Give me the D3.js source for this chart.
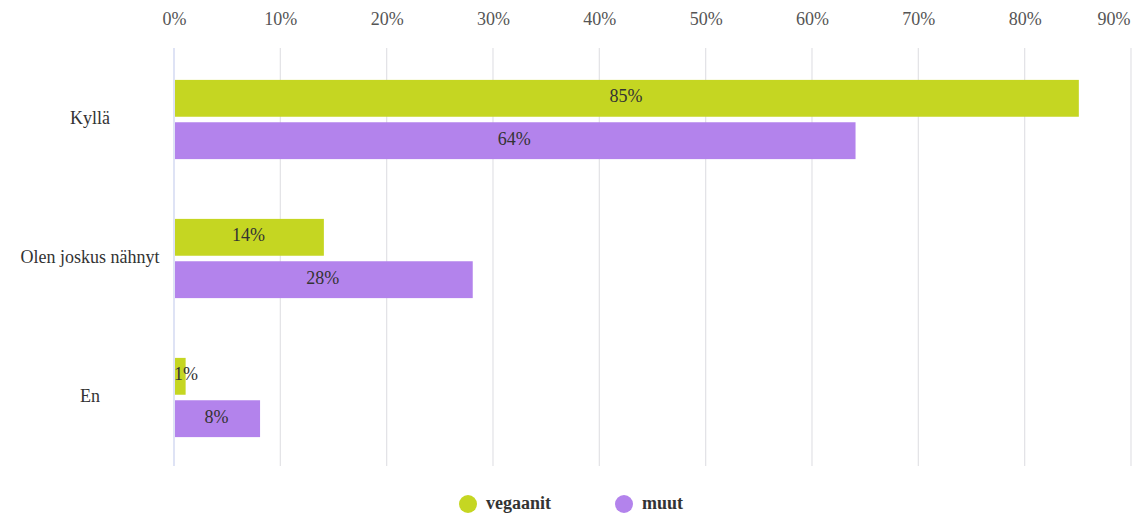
<!DOCTYPE html>
<html><head><meta charset="utf-8">
<script src="https://cdn.jsdelivr.net/npm/d3@7"></script>
<style>body{margin:0;background:#fff}svg{display:block;font-family:"Liberation Serif","DejaVu Serif",serif}</style>
</head><body><svg id="c" width="1138" height="516"></svg>
<script>
const categories = ["Kyllä", "Olen joskus nähnyt", "En"];
const seriesNames = ["vegaanit", "muut"];
const vegaanit = [85, 14, 1];
const muut = [64, 28, 8];
const tickValues = [0, 10, 20, 30, 40, 50, 60, 70, 80, 90];
const colors = ["#c5d622", "#b383ec"];

const svg = d3.select("#c");
const x = d3.scaleLinear().domain([0, 90]).range([174, 1131]);
const y = d3.scaleBand().domain(categories).range([50, 467]).paddingInner(0.43).paddingOuter(0.215);
const y1 = d3.scaleBand().domain(seriesNames).range([0, y.bandwidth()]).paddingInner(0.13);

// grid
svg.append("g").selectAll("line").data(tickValues).join("line")
  .attr("x1", d => x(d)).attr("x2", d => x(d)).attr("y1", 48).attr("y2", 466)
  .attr("stroke", d => d === 0 ? "#c9d0ee" : "#e2e2e6").attr("stroke-width", 1.2);

// top axis
const ax = svg.append("g").attr("transform", "translate(0,25)")
  .call(d3.axisTop(x).tickValues(tickValues).tickFormat(d => d + "%").tickSize(0).tickPadding(0));
ax.select(".domain").remove();
ax.selectAll("text").attr("font-family", "Liberation Serif, serif").attr("font-size", 18).attr("fill", "#555")
  .filter(d => d === 90).attr("text-anchor", "end").attr("dx", -1);

// category labels
svg.append("g").selectAll("text").data(categories).join("text")
  .attr("x", 90).attr("y", d => y(d) + y.bandwidth() / 2)
  .attr("text-anchor", "middle").attr("dominant-baseline", "middle")
  .attr("font-size", 18).attr("fill", "#333").text(d => d);

const rows = [];
categories.forEach((c, i) => {
  rows.push({cat: c, s: "vegaanit", v: vegaanit[i]});
  rows.push({cat: c, s: "muut", v: muut[i]});
});

svg.append("g").selectAll("rect").data(rows).join("rect")
  .attr("x", x(0) + 1).attr("y", d => y(d.cat) + y1(d.s))
  .attr("width", d => x(d.v) - x(0)).attr("height", y1.bandwidth())
  .attr("fill", d => colors[seriesNames.indexOf(d.s)]);

svg.append("g").selectAll("text").data(rows).join("text")
  .attr("x", d => Math.max((x(d.v) + x(0)) / 2, x(0) + 12))
  .attr("y", d => y(d.cat) + y1(d.s) + y1.bandwidth() / 2)
  .attr("text-anchor", "middle").attr("dominant-baseline", "middle")
  .attr("font-size", 18).attr("fill", "#333").text(d => d.v + "%");

// legend
const lg = svg.append("g");
const legendX = [468, 624];
seriesNames.forEach((s, i) => {
  lg.append("circle").attr("cx", legendX[i]).attr("cy", 504).attr("r", 9).attr("fill", colors[i]);
  lg.append("text").attr("x", legendX[i] + 18).attr("y", 505).attr("dominant-baseline", "middle")
    .attr("font-size", 18).attr("font-weight", "bold").attr("fill", "#333").text(s);
});
</script></body></html>
